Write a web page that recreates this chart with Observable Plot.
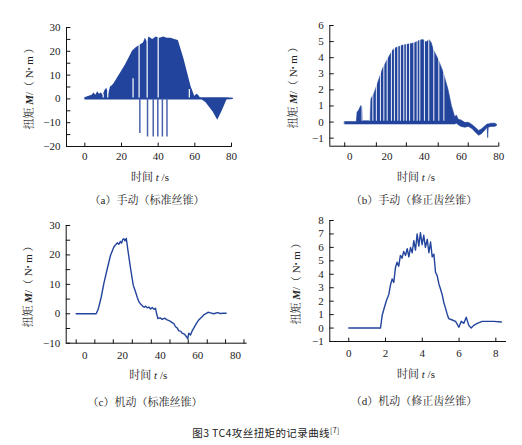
<!DOCTYPE html>
<html><head><meta charset="utf-8">
<script src="https://cdn.jsdelivr.net/npm/d3@7"></script>
<script src="https://cdn.jsdelivr.net/npm/@observablehq/plot@0.6"></script>
<style>
body{margin:0;background:#fff;}
#fig{position:relative;width:522px;height:445px;overflow:hidden;background:#fff;}
.p{position:absolute;}
.t{position:absolute;transform:translate(-50%,-50%);white-space:nowrap;font-family:"Liberation Serif","Noto Serif CJK SC","Noto Sans CJK SC",serif;font-size:11px;color:#222;line-height:1;}
.yt{transform:translate(-50%,-50%) rotate(-90deg);}
.dot{font-size:8px;vertical-align:1px;}
.cap{font-family:"Noto Sans CJK SC",sans-serif;font-size:10.5px;letter-spacing:0.4px;color:#222;}
.cap sup{font-size:7px;vertical-align:4px;}
</style></head>
<body><div id="fig"></div>
<script>
const blue = "#22449c";

// ---------- panel (a) 手动(标准丝锥) ----------
const aTime  = [0, 2, 4, 5, 6, 7, 8, 9, 10, 11, 12, 13, 14, 15, 16, 18, 20, 22, 24, 26, 28, 30, 32, 33, 34, 35, 37, 39, 41, 43, 45, 47, 49, 51, 52, 54, 56, 58, 59, 60, 61, 62, 63, 64, 66, 68, 70, 72.5, 75, 77.5, 81];
const aUpper = [0.5, 1, 1.5, 2.5, 1.5, 3, 2, 2.5, 1.5, 3.5, 4.5, 2, 5, 5.5, 6.5, 9, 11.5, 14, 17, 20, 21.5, 22.5, 23.5, 25.5, 24, 26, 25, 26, 25.5, 26, 25.5, 25.5, 25, 24.5, 22, 17, 11, 5, 3, 1, 2, 1.5, 0.5, 0.5, 0.5, 0.5, 0.5, 0.5, 0.5, 0.5, 0.3];
const aLower = [-0.5, -0.5, -0.5, -0.5, -0.5, -0.5, -0.5, -0.5, -0.5, -0.5, -0.5, -0.5, -0.5, -0.5, -0.5, -0.5, -0.5, -0.5, -0.5, -0.5, -0.5, -0.5, -0.5, -0.5, -0.5, -0.5, -0.5, -0.5, -0.5, -0.5, -0.5, -0.5, -0.5, -0.5, -0.5, -0.5, -0.5, -0.5, -0.5, -0.5, -0.5, -0.5, -0.5, -0.5, -1.5, -3.5, -5.5, -9, -5, -0.5, -0.3];
const aSpikeTime  = [30, 34.2, 37.3, 39.8, 42.3, 44.8];
const aSpikeDepth = [-14.5, -16, -16, -16, -16, -16];
const aGapTime = [10, 12.5, 26.3, 29.6, 34, 40, 57];
const aGapTop  = [2, 3, 8.5, 24, 26, 26, 4];
const aYLabels = [-20, -10, 0, 10, 20, 30];
const aYTicks  = [-20, -15, -10, -5, 0, 5, 10, 15, 20, 25, 30];
const aXLabels = [0, 20, 40, 60, 80];
const aXTicks  = [0, 20, 40, 60, 80];

// ---------- panel (b) 手动(修正齿丝锥) ----------
const bTime  = [-2.5, 3.8, 4.2, 5, 5.8, 6.3, 6.8, 7.1, 10.8, 11.6, 13.4, 15.2, 17.9, 20.6, 23.3, 25.1, 28.7, 33.2, 35, 37.7, 39.5, 41.3, 42.8, 44, 45, 47.6, 50.3, 53, 54.8, 56.6, 57.5, 58.5, 60, 62, 64, 66, 68, 69.5, 71, 73, 74, 74.3, 74.6, 76, 78, 79];
const bUpper = [0, 0, 0.6, 0.7, 0.9, 1.0, 0.9, 0.05, 0.05, 1.4, 1.8, 2.4, 3.3, 3.9, 4.45, 4.6, 4.75, 4.85, 4.9, 5.05, 5.1, 4.95, 5.1, 4.9, 4.5, 3.9, 3.1, 2.0, 1.0, 0.3, 0.4, 0.15, 0.1, -0.05, -0.05, -0.2, -0.4, -0.55, -0.45, -0.25, -0.15, -0.15, -0.15, -0.1, -0.1, -0.15];
const bLower = [-0.15, -0.15, -0.15, -0.15, -0.15, -0.15, -0.15, -0.15, -0.15, -0.15, -0.15, -0.15, -0.15, -0.15, -0.15, -0.15, -0.15, -0.15, -0.15, -0.15, -0.15, -0.15, -0.15, -0.15, -0.15, -0.15, -0.15, -0.15, -0.15, -0.15, -0.1, -0.2, -0.3, -0.35, -0.3, -0.45, -0.7, -0.85, -0.75, -0.5, -0.35, -1.0, -0.35, -0.3, -0.3, -0.25];
const bGapTime = [10.7, 12.4, 14.3, 16.5, 18.3, 20.1, 22.4, 24, 25.8, 27.2, 29, 30.4, 32.1, 34.4, 36.2, 37.6, 40.1, 42.4, 45.1, 47.8, 50.5, 6.6];
const bYLabels = [-1, 0, 1, 2, 3, 4, 5, 6];
const bYTicks  = [-1, 0, 1, 2, 3, 4, 5, 6];
const bXLabels = [0, 20, 40, 60, 80];
const bXTicks  = [-2.7, 14.3, 30.4, 47.5, 63.6, 80];

// ---------- panel (c) 机动(标准丝锥) ----------
const cTime = [-4.6, 6.0, 6.9, 7.4, 8.7, 10.1, 11.9, 13.6, 15.4, 17.2, 18.0, 18.9, 19.5, 20.1, 20.7, 21.3, 22, 23, 24.3, 25.7, 26.9, 27.8, 28.7, 29.6, 30.5, 31.5, 32.3, 33.1, 34, 34.9, 35.8, 36.7, 37.5, 38.1, 38.8, 40, 41.1, 42.4, 43.7, 45, 46.4, 47.3, 48.1, 49, 49.9, 50.8, 51.7, 52.8, 54, 54.6, 55.2, 56.1, 57, 57.9, 58.8, 59.6, 60.5, 61.4, 62.3, 63.2, 64.1, 65.4, 66.7, 68.5, 70.3, 72, 73.5, 75];
const cTorque = [0, 0, 1.3, 2.3, 5.7, 10.3, 15.3, 19.8, 22.7, 24.1, 23.6, 24.6, 24.0, 25.2, 25.5, 24.8, 25.6, 21, 15.3, 9.7, 7.5, 5.6, 4.1, 3.3, 2.7, 2.2, 2.6, 2.0, 2.3, 1.6, 2.1, 1.5, 1.9, 0, -1.6, -1.4, -1.9, -1.5, -2.1, -2.4, -3.0, -3.4, -4.4, -4.8, -5.8, -5.9, -6.6, -6.9, -7.8, -8.5, -6.6, -7.2, -5.8, -4.8, -3.8, -2.9, -2.1, -1.5, -1.0, -0.3, 0, 0.5, 0.3, 0.0, 0.4, 0.1, 0.2, 0.2];
const cYLabels = [-10, 0, 10, 20, 30];
const cYTicks  = [-10, -5, 0, 5, 10, 15, 20, 25, 30];
const cXLabels = [0, 20, 40, 60, 80];
const cXTicks  = [-4.6, 5.3, 15.1, 25.2, 35.3, 45.2, 54.9, 65, 74.7, 84.5];

// ---------- panel (d) 机动(修正齿丝锥) ----------
const dTime = [0, 1.725, 1.82, 1.91, 2.05, 2.18, 2.27, 2.36, 2.45, 2.54, 2.63, 2.72, 2.81, 2.90, 2.99, 3.09, 3.18, 3.27, 3.36, 3.45, 3.54, 3.63, 3.72, 3.81, 3.90, 3.99, 4.08, 4.17, 4.27, 4.36, 4.45, 4.54, 4.63, 4.72, 4.81, 4.90, 4.99, 5.08, 5.17, 5.26, 5.35, 5.44, 5.63, 5.81, 5.99, 6.12, 6.26, 6.39, 6.53, 6.66, 6.80, 6.99, 7.26, 7.53, 7.89, 8.3];
const dTorque = [0, 0, 0.95, 1.4, 2.05, 2.5, 3.2, 3.65, 3.4, 4.5, 4.9, 4.6, 5.4, 5.2, 5.7, 5.4, 5.9, 5.3, 6.0, 5.6, 6.5, 5.8, 7.0, 6.1, 7.1, 6.2, 6.9, 6.0, 6.6, 5.6, 6.4, 5.3, 5.5, 4.15, 3.9, 3.3, 2.9, 2.5, 1.9, 1.5, 1.05, 0.7, 0.6, 0.5, 0.06, 0.5, 0.35, 0.8, 0.2, 0.0, 0.2, 0.35, 0.5, 0.5, 0.5, 0.45];
const dYLabels = [-1, 0, 1, 2, 3, 4, 5, 6, 7, 8];
const dYTicks  = [-1, 0, 1, 2, 3, 4, 5, 6, 7, 8];
const dXLabels = [0, 2, 4, 6, 8];
const dXTicks  = [0, 2, 4, 6, 8];

const subTitles = ["（a）手动（标准丝锥）", "（b）手动（修正齿丝锥）", "（c）机动（标准丝锥）", "（d）机动（修正齿丝锥）"];
const caption = "图3 TC4攻丝扭矩的记录曲线";
const captionRef = "[7]";

// ---------- helpers ----------
const fmt = d => d < 0 ? "\u2212" + Math.abs(d) : String(d);
const tickShape = {draw(ctx, l) { ctx.moveTo(0, 0); ctx.lineTo(0, -l); }};
function axes(c) {
  return [
    Plot.ruleX([c.xDomain[0]], {stroke: "#111", strokeWidth: 1}),
    Plot.ruleY([c.yDomain[0]], {stroke: "#111", strokeWidth: 1}),
    Plot.axisY(c.yLabels, {tickSize: 0, tickPadding: 6, tickFormat: fmt, label: null}),
    Plot.axisX(c.xLabels, {tickSize: 0, tickPadding: c.xPad, tickFormat: fmt, label: null}),
    Plot.vector(c.yTicks, {y: d => d, frameAnchor: "left", length: 3.5, rotate: 90, anchor: "start", shape: tickShape, stroke: "#111", strokeWidth: 1}),
    Plot.vector(c.xTicks, {x: d => d, frameAnchor: "bottom", length: 3.5, rotate: 0, anchor: "start", shape: tickShape, stroke: "#111", strokeWidth: 1})
  ];
}
function panel(c, marks) {
  return Plot.plot({
    width: c.w, height: c.h,
    marginLeft: c.ml, marginRight: c.mr, marginTop: c.mt, marginBottom: c.mb,
    x: {domain: c.xDomain}, y: {domain: c.yDomain},
    style: {fontFamily: "'Liberation Serif', serif", fontSize: "11px", color: "#222", background: "transparent", overflow: "visible"},
    marks: [...marks, ...axes(c)]
  });
}

const zip3 = (t, lo, hi) => t.map((v, i) => ({t: v, lo: lo[i], hi: hi[i]}));

// panel a
const cfgA = {w: 261, h: 175, ml: 66, mr: 30, mt: 27, mb: 29, xDomain: [-10, 80], yDomain: [-20, 30], xPad: 6,
  yLabels: aYLabels, yTicks: aYTicks, xLabels: aXLabels, xTicks: aXTicks};
const plotA = panel(cfgA, [
  Plot.areaY(zip3(aTime, aLower, aUpper), {x: "t", y1: "lo", y2: "hi", fill: blue}),
  Plot.ruleX(aGapTime.map((t, i) => ({t, top: aGapTop[i]})), {x: "t", y1: 0.4, y2: "top", stroke: "#fff", strokeWidth: 1.2}),
  Plot.ruleX(aSpikeTime.map((t, i) => ({t, d: aSpikeDepth[i]})), {x: "t", y1: 0, y2: "d", stroke: "#4a63ad", strokeWidth: 1.5})
]);

// panel b
const cfgB = {w: 261, h: 175, ml: 68.3, mr: 23.7, mt: 25, mb: 29.3, xDomain: [-10.7, 80], yDomain: [-1.5, 6], xPad: 6,
  yLabels: bYLabels, yTicks: bYTicks, xLabels: bXLabels, xTicks: bXTicks};
const plotB = panel(cfgB, [
  Plot.areaY(zip3(bTime, bLower, bUpper), {x: "t", y1: "lo", y2: "hi", fill: blue, stroke: blue, strokeWidth: 0.6}),
  Plot.ruleX(bGapTime, {x: d => d, y1: 0.05, y2: 5.5, stroke: "#fff", strokeWidth: 1.1, strokeOpacity: 0.85})
]);

// panel c
const cfgC = {w: 261, h: 170, ml: 65.7, mr: 14.3, mt: 15, mb: 37.3, xDomain: [-9.9, 86.2], yDomain: [-10, 30], xPad: 8,
  yLabels: cYLabels, yTicks: cYTicks, xLabels: cXLabels, xTicks: cXTicks};
const plotC = panel(cfgC, [
  Plot.line(cTime.map((t, i) => ({t, v: cTorque[i]})), {x: "t", y: "v", stroke: blue, strokeWidth: 1.4})
]);

// panel d
const cfgD = {w: 261, h: 170, ml: 68.3, mr: 16, mt: 10, mb: 39, xDomain: [-1.03, 8.58], yDomain: [-1, 8], xPad: 8,
  yLabels: dYLabels, yTicks: dYTicks, xLabels: dXLabels, xTicks: dXTicks};
const plotD = panel(cfgD, [
  Plot.line(dTime.map((t, i) => ({t, v: dTorque[i]})), {x: "t", y: "v", stroke: blue, strokeWidth: 1.4})
]);

const fig = document.getElementById("fig");
[[plotA, 0, 0], [plotB, 261, 0], [plotC, 0, 210], [plotD, 261, 210]].forEach(([p, l, t]) => {
  p.classList.add("p"); p.style.left = l + "px"; p.style.top = t + "px"; fig.appendChild(p);
});

function addText(html, x, y, cls) {
  const d = document.createElement("div");
  d.className = "t " + (cls || "");
  d.style.left = x + "px"; d.style.top = y + "px";
  d.innerHTML = html;
  fig.appendChild(d);
}
const yTitle = '扭矩 <b><i>M</i></b>/（ N<span class="dot">•</span> m ）';
const xTitle = '时间 <i>t</i> /s';
[[29.3, 86], [293.3, 85], [28.3, 284], [296, 280.5]].forEach(([x, y]) => addText(yTitle, x, y, "yt"));
[[150, 177], [416, 177], [148.3, 375], [416, 374]].forEach(([x, y]) => addText(xTitle, x, y));
[[147, 200], [414, 200], [145, 401.7], [414, 400.7]].forEach(([x, y], i) => addText(subTitles[i], x, y));
addText(caption + "<sup>" + captionRef + "</sup>", 266, 433, "cap");
</script></body></html>
